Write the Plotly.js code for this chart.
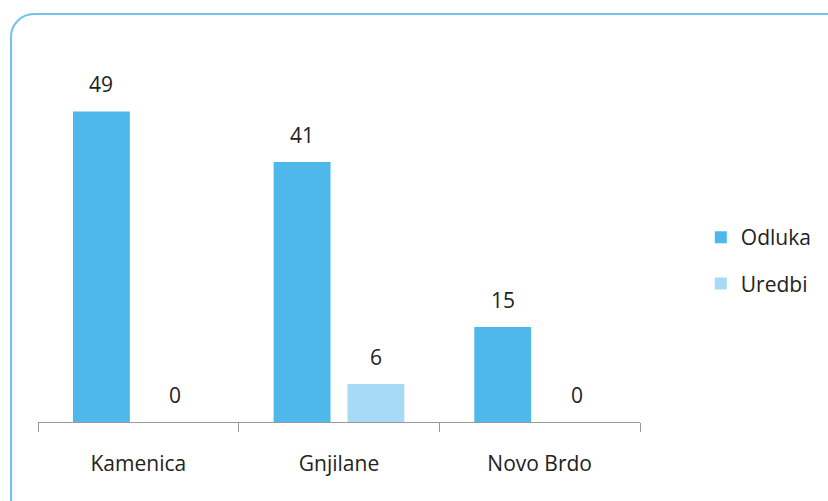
<!DOCTYPE html>
<html>
<head>
<meta charset="utf-8">
<script src="https://cdn.plot.ly/plotly-3.0.1.min.js"></script>
<style>
  html, body { margin: 0; padding: 0; width: 828px; height: 501px; overflow: hidden; background: #ffffff; }
  #frame { position: absolute; left: 10px; top: 13px; width: 860px; height: 540px;
           border: 2px solid #6FC3EE; border-radius: 24px; box-sizing: border-box; }
  #chart { position: absolute; left: 0; top: 0; width: 828px; height: 501px; }
</style>
</head>
<body>
<div id="frame"></div>
<div id="chart"></div>
<script>
const categories = ["Kamenica", "Gnjilane", "Novo Brdo"];
const odluka = [49, 41, 15];
const uredbi = [0, 6, 0];
const seriesNames = ["Odluka", "Uredbi"];
const colors = ["#4DB8E9", "#A7DBF5"];

const FONT = "'Open Sans', sans-serif";

const traces = [odluka, uredbi].map((vals, i) => ({
  type: "bar",
  name: seriesNames[i],
  x: categories,
  y: vals,
  marker: { color: colors[i] },
  legendgroup: "g" + i,
  hoverinfo: "x+y+name"
}));

const annotations = [];
[odluka, uredbi].forEach((vals, i) => {
  vals.forEach((v, j) => {
    annotations.push({
      x: categories[j], y: v, xref: "x", yref: "y",
      text: String(v), showarrow: false,
      xshift: i === 0 ? -37 : 37, yshift: 11,
      yanchor: "bottom",
      font: { family: FONT, size: 21, color: "#222" }
    });
  });
});

const layout = {
  width: 828, height: 501,
  paper_bgcolor: "rgba(0,0,0,0)",
  plot_bgcolor: "rgba(0,0,0,0)",
  margin: { l: 38, r: 188, t: 67, b: 79, autoexpand: false },
  barmode: "group",
  bargap: 0.264,
  bargroupgap: 0.23,
  showlegend: true,
  legend: {
    x: 1.101, y: 0.455, xanchor: "left", yanchor: "middle",
    traceorder: "grouped", tracegroupgap: 16,
    font: { family: FONT, size: 21, color: "#222" },
    bgcolor: "rgba(0,0,0,0)"
  },
  xaxis: {
    type: "category",
    showline: true, linecolor: "#9a9a9a", linewidth: 1,
    ticks: "outside", tickson: "boundaries", ticklen: 9, tickcolor: "#9a9a9a",
    ticklabelstandoff: 23,
    tickfont: { family: FONT, size: 21, color: "#222" },
    showgrid: false, zeroline: false, fixedrange: true, automargin: false
  },
  yaxis: {
    range: [0, 56], visible: false, showgrid: false, zeroline: false, fixedrange: true, automargin: false
  },
  annotations: annotations
};

Plotly.newPlot("chart", traces, layout, { displayModeBar: false, staticPlot: true });
</script>
</body>
</html>
